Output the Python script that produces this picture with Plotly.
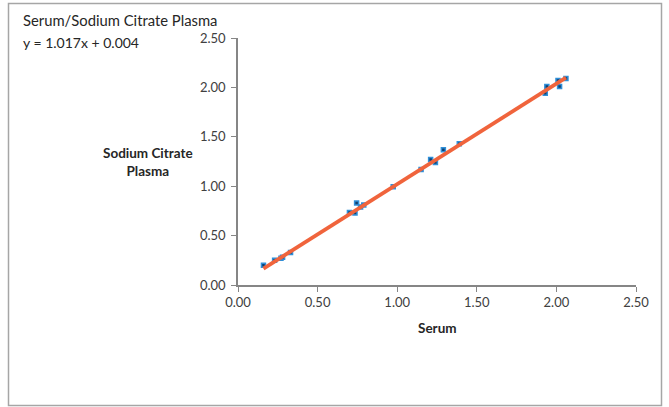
import plotly.graph_objects as go

# Paired results: serum vs sodium citrate plasma
serum = [0.16, 0.23, 0.27, 0.28, 0.33, 0.70, 0.735, 0.745, 0.77, 0.79, 0.975,
         1.15, 1.21, 1.24, 1.29, 1.39, 1.93, 1.94, 2.01, 2.02, 2.06]
citrate = [0.20, 0.25, 0.27, 0.28, 0.33, 0.735, 0.73, 0.83, 0.79, 0.81, 0.995,
           1.17, 1.27, 1.24, 1.37, 1.43, 1.94, 2.01, 2.07, 2.01, 2.09]

slope = 1.017
intercept = 0.004
tick_vals = [0.0, 0.5, 1.0, 1.5, 2.0, 2.5]
tick_text = ["0.00", "0.50", "1.00", "1.50", "2.00", "2.50"]

font_family = "Lato, 'Open Sans', sans-serif"
text_color = "#404040"
axis_color = "#868686"

fit_x = [min(serum), max(serum)]
fit_y = [slope * v + intercept for v in fit_x]

fig = go.Figure()
fig.add_trace(go.Scatter(
    x=serum, y=citrate, mode="markers",
    marker=dict(symbol="square", size=4, color="#123F6E",
                line=dict(color="#2F8FD8", width=1.5)),
    showlegend=False, hoverinfo="x+y",
))
fig.add_trace(go.Scatter(
    x=fit_x, y=fit_y, mode="lines",
    line=dict(color="#F0643C", width=3.8),
    showlegend=False, hoverinfo="skip",
))

L, R, T, B = 238, 33, 38, 122
W, H = 669, 407
pw, ph = W - L - R, H - T - B


def px(xp):
    return (xp - L) / pw


def py(yp):
    return (H - B - yp) / ph


axis_common = dict(
    range=[0, 2.5], tickvals=tick_vals, ticktext=tick_text,
    showgrid=False, zeroline=False, showline=True, linecolor=axis_color,
    linewidth=1.5, ticks="outside", ticklen=5, tickcolor=axis_color,
    tickwidth=1, tickfont=dict(family=font_family, size=13, color=text_color),
    fixedrange=True,
)

fig.update_layout(
    width=W, height=H,
    margin=dict(l=L, r=R, t=T, b=B),
    paper_bgcolor="white", plot_bgcolor="white",
    xaxis=dict(**axis_common),
    yaxis=dict(**axis_common, ticklabelstandoff=3),
    font=dict(family=font_family, color=text_color),
    shapes=[dict(type="rect", xref="paper", yref="paper",
                 x0=px(8.5), x1=px(661.5), y0=py(405.5), y1=py(3.5),
                 line=dict(color="#A6A6A6", width=1.5), layer="below")],
    annotations=[
        dict(text="Serum/Sodium Citrate Plasma", xref="paper", yref="paper",
             x=px(21), y=py(20), xanchor="left", yanchor="middle",
             showarrow=False, font=dict(size=14.8, color="#262626")),
        dict(text="y = 1.017x + 0.004", xref="paper", yref="paper",
             x=px(21), y=py(42), xanchor="left", yanchor="middle",
             showarrow=False, font=dict(size=14, color="#262626")),
        dict(text="<b>Sodium Citrate<br>Plasma</b>", xref="paper", yref="paper",
             x=px(148), y=py(162), xanchor="center", yanchor="middle",
             showarrow=False, align="center",
             font=dict(size=13.5, color="#262626")),
        dict(text="<b>Serum</b>", xref="paper", yref="paper",
             x=px(437), y=py(328), xanchor="center", yanchor="middle",
             showarrow=False, font=dict(size=13.5, color="#262626")),
    ],
)

fig.write_html("out.html")
